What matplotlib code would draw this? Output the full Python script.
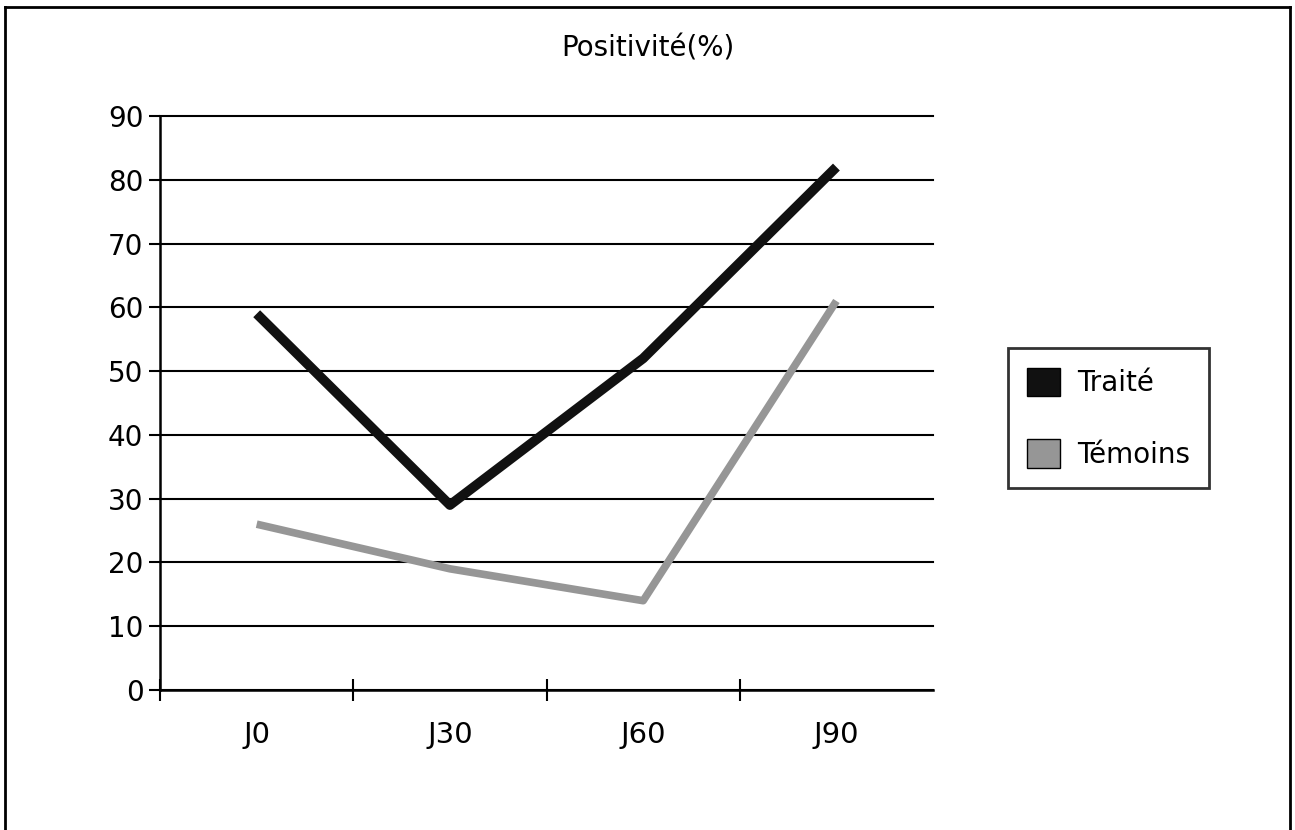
import matplotlib.pyplot as plt
from matplotlib.patches import Patch
from matplotlib.lines import Line2D

# --- DATA ---
categories = ["J0", "J30", "J60", "J90"]
traite = [59, 29, 52, 82]
temoins = [26, 19, 14, 61]
y_ticks = [0, 10, 20, 30, 40, 50, 60, 70, 80, 90]

COL_TRAITE = "#111111"
COL_TEMOINS = "#969696"

fig = plt.figure(figsize=(12.95, 8.3), dpi=100)
ax = fig.add_axes([0.1236, 0.1687, 0.5969, 0.6915])

x = list(range(len(categories)))
ax.plot(x, traite, color=COL_TRAITE, linewidth=7, solid_capstyle="butt", zorder=3)
ax.plot(x, temoins, color=COL_TEMOINS, linewidth=5.5, solid_capstyle="butt", zorder=3)

ax.set_xlim(-0.5, 3.5)
ax.set_ylim(0, 90)
ax.set_yticks(y_ticks)
ax.set_xticks(x)
ax.set_xticklabels(categories)
# category separators on the x axis
ax.set_xticks([-0.5, 0.5, 1.5, 2.5], minor=True)
ax.tick_params(axis="x", which="major", length=0, pad=22, labelsize=21)
ax.tick_params(axis="x", which="minor", length=16, width=1.5, direction="inout", color="black")
ax.tick_params(axis="y", which="major", length=8, width=1.5, direction="out", labelsize=20, pad=4)

ax.grid(axis="y", color="black", linewidth=1.5, zorder=1)
for gl in ax.get_ygridlines():
    gl.set_clip_on(False)
ax.set_axisbelow(True)
for s in ["top", "right"]:
    ax.spines[s].set_visible(False)
ax.spines["left"].set_linewidth(1.8)
ax.spines["bottom"].set_linewidth(1.8)

fig.text(0.5, 0.942, "Positivité(%)", ha="center", va="center", fontsize=20)

handles = [Patch(facecolor=COL_TRAITE, edgecolor="black"),
           Patch(facecolor=COL_TEMOINS, edgecolor="black")]
leg = fig.legend(handles, ["Traité", "Témoins"], loc="center left",
                 bbox_to_anchor=(0.778, 0.496), fontsize=20, frameon=True,
                 fancybox=False, edgecolor="black", handlelength=1.2, handleheight=1.2,
                 labelspacing=1.5, borderpad=0.7, handletextpad=0.6, borderaxespad=0)
leg.get_frame().set_linewidth(2)

# outer frame of the scanned chart
fig.add_artist(Line2D([0.004, 0.004], [0.0, 0.992], color="black", linewidth=2, transform=fig.transFigure))
fig.add_artist(Line2D([0.996, 0.996], [0.0, 0.992], color="black", linewidth=2, transform=fig.transFigure))
fig.add_artist(Line2D([0.004, 0.996], [0.992, 0.992], color="black", linewidth=2, transform=fig.transFigure))

fig.savefig("out.png", dpi=100)
